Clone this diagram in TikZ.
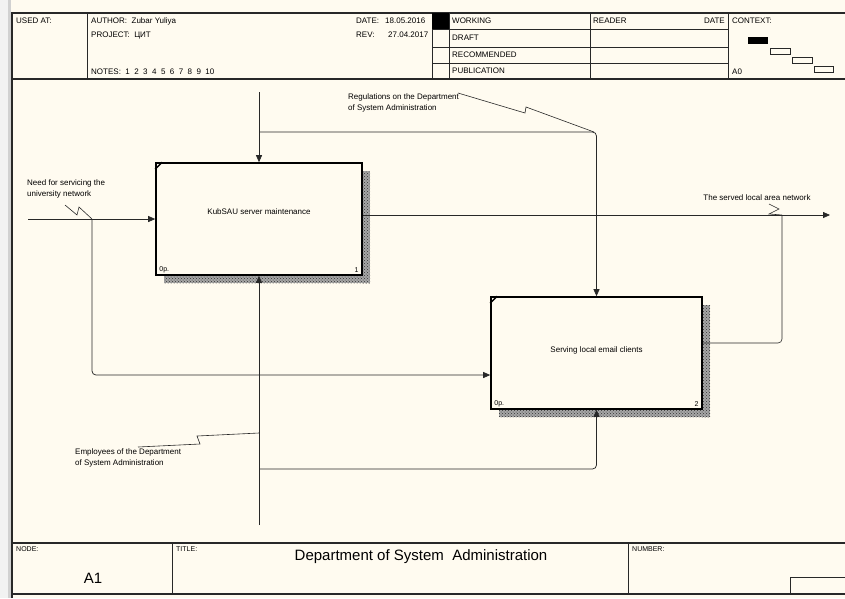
\documentclass[tikz,border=0pt]{standalone}
\usepackage{fontspec}
\setmainfont{Liberation Sans}
\usetikzlibrary{arrows.meta,patterns}

\definecolor{paper}{RGB}{255,251,240}
\definecolor{ink}{RGB}{40,40,40}

\tikzset{
  frame/.style={draw=ink, line width=1.1pt},
  rule/.style={draw=ink, line width=0.9pt},
  txt/.style={font=\fontsize{8}{11.5}\selectfont, inner sep=0pt, align=left},
  tiny/.style={font=\fontsize{7}{8}\selectfont, inner sep=0pt},
  actbox/.style={draw=black, line width=1.6pt, minimum height=112pt, inner sep=0pt},
  shade/.style={fill=black!35, postaction={pattern=crosshatch dots, pattern color=black!80}},
  flow/.style={draw=ink, line width=0.75pt, -{Triangle[length=7pt,width=6pt]}},
  tie/.style={draw=ink, line width=0.6pt},
}

\begin{document}
\begin{tikzpicture}[x=1pt,y=-1pt]
\useasboundingbox (0,0) rectangle (845,598);
\fill[paper] (0,0) rectangle (845,598);
\fill[black!5] (0,0) rectangle (8,598);
\fill[black!18] (8,0) rectangle (11,598);

% form frame
\draw[frame] (12,598) -- (12,13) -- (845,13);
\draw[frame] (12,79) -- (845,79);
\draw[frame] (12,543) -- (845,543);
\draw[frame] (12,594) -- (845,594);

% header grid
\draw[rule] (87,13) -- (87,79);
\draw[rule] (432,13) -- (432,79);
\draw[rule] (449,13) -- (449,79);
\draw[rule] (590,13) -- (590,79);
\draw[rule] (728,13) -- (728,79);
\draw[rule] (432,29) -- (728,29);
\draw[rule] (432,47) -- (728,47);
\draw[rule] (432,63) -- (728,63);
\fill[black] (432,13) rectangle (449,29);

% header texts
\node[txt, anchor=west] (usedat) at (16,21) {USED AT:};
\node[txt, anchor=west] (author) at (91,21) {AUTHOR:\ \ Zubar Yuliya};
\node[txt, anchor=west] (project) at (91,35) {PROJECT:\ \ ЦИТ};
\node[txt, anchor=west] (notes) at (91,72) {NOTES:\ \ 1\ \ 2\ \ 3\ \ 4\ \ 5\ \ 6\ \ 7\ \ 8\ \ 9\ \ 10};
\node[txt, anchor=west] (datekey) at (356,21) {DATE:};
\node[txt, anchor=west] (dateval) at (385,21) {18.05.2016};
\node[txt, anchor=west] (revkey) at (356,35) {REV:};
\node[txt, anchor=west] (revval) at (388,35) {27.04.2017};
\node[txt, anchor=west] (working) at (452,21) {WORKING};
\node[txt, anchor=west] (draft) at (452,38) {DRAFT};
\node[txt, anchor=west] (recomm) at (452,55) {RECOMMENDED};
\node[txt, anchor=west] (public) at (452,71) {PUBLICATION};
\node[txt, anchor=west] (reader) at (593,21) {READER};
\node[txt, anchor=east] (rdate) at (725,21) {DATE};
\node[txt, anchor=west] (context) at (732,21) {CONTEXT:};
\node[txt, anchor=west] (azero) at (732,72) {A0};

% context map
\fill[black] (748,37) rectangle (768,44);
\draw[rule] (770,48) rectangle (790,54);
\draw[rule] (792,57) rectangle (812,63);
\draw[rule] (814,66) rectangle (833,72);

% activities
\fill[shade] (362,171) rectangle (370,283);
\fill[shade] (164,275) rectangle (370,283);
\fill[shade] (702,305) rectangle (710,417);
\fill[shade] (499,409) rectangle (710,417);
\node[actbox, minimum width=206pt] (kub) at (259,219) {};
\node[actbox, minimum width=211pt] (mail) at (596.5,353) {};
\node[txt] (kubtext) at ([yshift=7]kub.center) {KubSAU server maintenance};
\node[txt] (mailtext) at ([yshift=3]mail.center) {Serving local email clients};
\draw[line width=1.3pt] ([yshift=-7]kub.north west) -- ([xshift=7]kub.north west);
\draw[line width=1.3pt] ([yshift=-7]mail.north west) -- ([xshift=7]mail.north west);
\node[tiny, anchor=south west] (kubref) at ([xshift=4,yshift=3]kub.south west) {0p.};
\node[tiny, anchor=south east] (kubnum) at ([xshift=-4,yshift=3]kub.south east) {1};
\node[tiny, anchor=south west] (mailref) at ([xshift=4,yshift=3]mail.south west) {0p.};
\node[tiny, anchor=south east] (mailnum) at ([xshift=-4,yshift=3]mail.south east) {2};

% input
\coordinate (needin) at (28,219);
\coordinate (needbr) at (92,219);
\draw[flow] (needin) -- (kub.west);
\draw[flow, rounded corners=4] (needbr) |- ([yshift=-22]mail.west);
\node[txt, anchor=north west] (needlbl) at (27,179) {Need for servicing the\\university network};
\draw[tie] (65,205) -- (77,215) -- (79,207) -- (needbr);

% control
\coordinate (regtop) at (259,92);
\coordinate (regbr) at (259,132);
\draw[flow] (regtop) -- (kub.north);
\draw[flow, rounded corners=4] (regbr) -| (mail.north);
\node[txt, anchor=north west] (reglbl) at (348,93) {Regulations on the Department\\of System Administration};
\draw[tie] (458,93) -- (525,113) -- (526,107) -- (594,132);

% output
\coordinate (netout) at (830,215);
\coordinate (netjoin) at (782,215);
\draw[flow] ([yshift=4]kub.east) -- (netout);
\draw[tie, rounded corners=4] ([yshift=10]mail.east) -| (netjoin);
\node[txt] (netlbl) at (757,198) {The served local area network};
\draw[tie] (769,204) -- (779,209) -- (769,214) -- (netjoin);

% mechanism
\coordinate (staffbot) at (259,525);
\coordinate (staffbr) at (259,469);
\draw[flow] (staffbot) -- (kub.south);
\draw[flow, rounded corners=4] (staffbr) -| (mail.south);
\node[txt, anchor=north west] (stafflbl) at (75,448) {Employees of the Department\\of System Administration};
\draw[tie] (138,447) -- (200,444) -- (197,436) -- (259,433);

% footer
\draw[rule] (172,543) -- (172,594);
\draw[rule] (628,543) -- (628,594);
\draw[rule] (790,594) -- (790,577) -- (845,577);
\node[tiny, anchor=west] (nodekey) at (16,549) {NODE:};
\node[font=\fontsize{15}{18}\selectfont, inner sep=0pt] (nodeval) at (93,578) {A1};
\node[tiny, anchor=west] (titlekey) at (176,549) {TITLE:};
\node[font=\fontsize{15}{18}\selectfont, inner sep=0pt] (titleval) at (421,557) {Department of System\ \ Administration};
\node[tiny, anchor=west] (numkey) at (632,549) {NUMBER:};
\end{tikzpicture}
\end{document}
